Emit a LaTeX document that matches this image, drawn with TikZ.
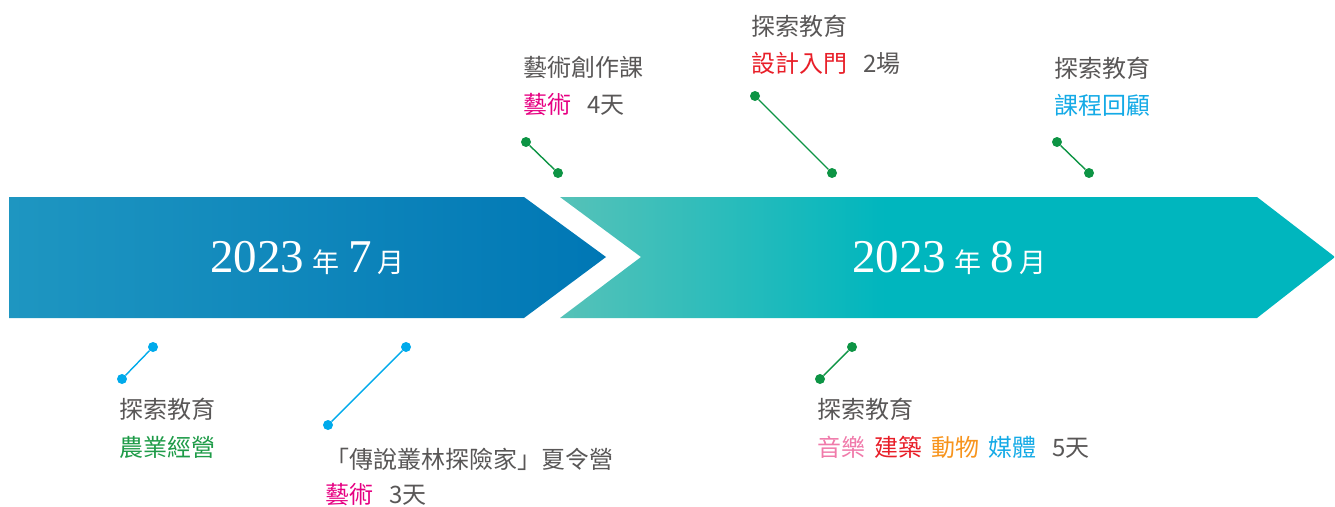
\documentclass[tikz,border=0pt]{standalone}
\usepackage{fontspec}
\setmainfont{Liberation Serif}
\newfontfamily\cjk{Noto Sans CJK TC}
\definecolor{lblueL}{RGB}{30,150,193}
\definecolor{lblueR}{RGB}{0,119,181}
\definecolor{tealL}{RGB}{86,194,184}
\definecolor{tealR}{RGB}{0,182,190}
\definecolor{dgreen}{RGB}{13,148,68}
\definecolor{dblue}{RGB}{0,170,235}
\definecolor{txtgray}{RGB}{89,87,87}
\definecolor{cmag}{RGB}{230,0,130}
\definecolor{cred}{RGB}{232,30,40}
\definecolor{cpink}{RGB}{240,122,170}
\definecolor{corange}{RGB}{247,148,29}
\definecolor{cblue}{RGB}{20,170,230}
\definecolor{cgreen}{RGB}{30,155,72}
\pgfdeclarehorizontalshading{tealshade}{100bp}{color(0bp)=(tealL); color(25bp)=(tealL); color(46bp)=(tealR); color(100bp)=(tealR)}
\tikzset{
  gdot/.style={circle,fill=dgreen,inner sep=0pt,minimum size=10pt},
  bdot/.style={circle,fill=dblue,inner sep=0pt,minimum size=10pt},
  gline/.style={draw=dgreen,line width=1.4pt},
  bline/.style={draw=dblue,line width=1.4pt},
  lbl/.style={anchor=west,inner sep=0pt,text=txtgray,font=\cjk\fontsize{24}{28}\selectfont},
  ttl/.style={anchor=base west,inner sep=0pt,text=white},
}
\newcommand{\bigd}[1]{{\fontsize{47}{47}\selectfont #1}}
\newcommand{\smc}[1]{{\cjk\fontsize{27}{27}\selectfont #1}}
\begin{document}
\begin{tikzpicture}[x=1pt,y=-1pt]
\useasboundingbox (0,0) rectangle (1335,506);
% arrows
\shade[left color=lblueL,right color=lblueR] (9,197) -- (524,197) -- (606,257) -- (524,318) -- (9,318) -- cycle;
\shade[shading=tealshade] (560,197) -- (1257,197) -- (1335,257) -- (1257,318) -- (560,318) -- (641,257) -- cycle;
\node[ttl] (t7) at (210,272) {\bigd{2023}\hspace{8pt}\smc{年}\hspace{9pt}\bigd{7}\hspace{6pt}\smc{月}};
\node[ttl] (t8) at (852,272) {\bigd{2023}\hspace{8pt}\smc{年}\hspace{9pt}\bigd{8}\hspace{6pt}\smc{月}};
% top labels
\node[lbl] (a1) at (523,68) {藝術創作課};
\node[lbl] (a2) at (523,105) {\textcolor{cmag}{藝術}\hspace{16pt}4天};
\node[gdot] (ad1) at (526,142) {};
\node[gdot] (ad2) at (558,173) {};
\draw[gline] (ad1) -- (ad2);
\node[lbl] (b1) at (751,26) {探索教育};
\node[lbl] (b2) at (751,63) {\textcolor{cred}{設計入門}\hspace{16pt}2場};
\node[gdot] (bd1) at (755,96) {};
\node[gdot] (bd2) at (832,173) {};
\draw[gline] (bd1) -- (bd2);
\node[lbl] (c1) at (1054,68) {探索教育};
\node[lbl] (c2) at (1054,105) {\textcolor{cblue}{課程回顧}};
\node[gdot] (cd1) at (1057,142) {};
\node[gdot] (cd2) at (1089,173) {};
\draw[gline] (cd1) -- (cd2);
% bottom labels
\node[bdot] (dd1) at (153,347) {};
\node[bdot] (dd2) at (122,379) {};
\draw[bline] (dd1) -- (dd2);
\node[lbl] (d1) at (119,409) {探索教育};
\node[lbl] (d2) at (119,447) {\textcolor{cgreen}{農業經營}};
\node[bdot] (ed1) at (406,347) {};
\node[bdot] (ed2) at (328,425) {};
\draw[bline] (ed1) -- (ed2);
\node[lbl] (e1) at (325,459) {「傳說叢林探險家」夏令營};
\node[lbl] (e2) at (325,495) {\textcolor{cmag}{藝術}\hspace{16pt}3天};
\node[gdot] (fd1) at (852,347) {};
\node[gdot] (fd2) at (820,379) {};
\draw[gline] (fd1) -- (fd2);
\node[lbl] (f1) at (817,409) {探索教育};
\node[lbl] (f2) at (817,447) {\textcolor{cpink}{音樂}\hspace{9pt}\textcolor{cred}{建築}\hspace{9pt}\textcolor{corange}{動物}\hspace{9pt}\textcolor{cblue}{媒體}\hspace{16pt}5天};
\end{tikzpicture}
\end{document}
